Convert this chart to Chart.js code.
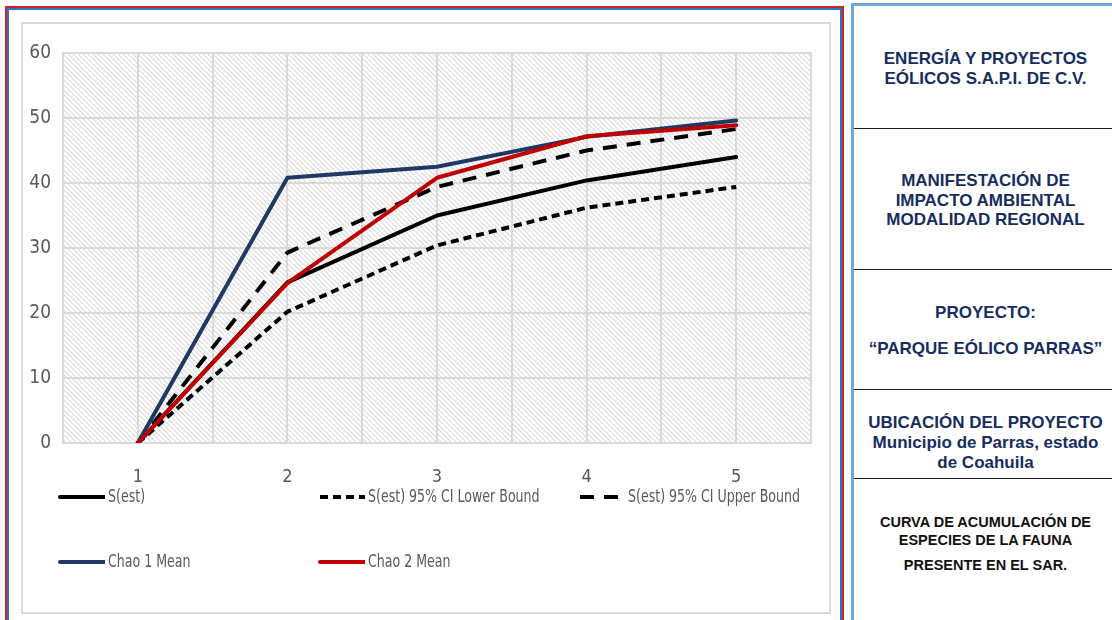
<!DOCTYPE html>
<html>
<head>
<meta charset="utf-8">
<script src="https://cdn.jsdelivr.net/npm/chart.js@4.4.1/dist/chart.umd.min.js"></script>
<style>
  html, body { margin: 0; padding: 0; background: #fff; }
  body { width: 1112px; height: 620px; overflow: hidden; position: relative;
         font-family: 'Liberation Sans', Arial, sans-serif; }
  #leftFrame { position: absolute; left: 5px; top: 6px; width: 835px; height: 640px;
               border: 2px solid #d0202a; }
  #leftInner { position: absolute; left: 0; top: 0; width: 831px; height: 636px;
               border: 2px solid #2a76c6; }
  #chartFrame { position: absolute; left: 21px; top: 22px; width: 806px; height: 588px;
                border: 2px solid #d9d9d9; background: #fff; }
  #chartFrame canvas { position: absolute; left: 0; top: 0; }
  #rightPanel { position: absolute; left: 851px; top: 3px; width: 300px; height: 640px;
                border-left: 3px solid #6fa8dc; border-top: 3px solid #6fa8dc; }
  .rule { position: absolute; left: 854px; width: 270px; height: 0;
          border-top: 1px solid #1a1a1a; }
  .t { position: absolute; left: 854px; width: 263px; text-align: center;
       line-height: 20px; font-weight: bold; white-space: nowrap; }
  .navy { color: #162d5e; font-size: 17px; }
  .blk { color: #111; font-size: 14.5px; }
</style>
</head>
<body>
<div id="leftFrame"><div id="leftInner"></div></div>
<div id="chartFrame"><canvas id="curve" width="806" height="588"></canvas></div>

<div id="rightPanel"></div>
<div class="rule" style="top:128px"></div>
<div class="rule" style="top:269px"></div>
<div class="rule" style="top:389px"></div>
<div class="rule" style="top:478px"></div>

<div class="t navy" style="top:49px">ENERGÍA Y PROYECTOS</div>
<div class="t navy" style="top:69px">EÓLICOS S.A.P.I. DE C.V.</div>
<div class="t navy" style="top:171px">MANIFESTACIÓN DE</div>
<div class="t navy" style="top:190.5px">IMPACTO AMBIENTAL</div>
<div class="t navy" style="top:210px">MODALIDAD REGIONAL</div>
<div class="t navy" style="top:302.5px">PROYECTO:</div>
<div class="t navy" style="top:339px">“PARQUE EÓLICO PARRAS”</div>
<div class="t navy" style="top:412.5px">UBICACIÓN DEL PROYECTO</div>
<div class="t navy" style="top:432.5px">Municipio de Parras, estado</div>
<div class="t navy" style="top:453px">de Coahuila</div>
<div class="t blk" style="top:511.5px">CURVA DE ACUMULACIÓN DE</div>
<div class="t blk" style="top:530px">ESPECIES DE LA FAUNA</div>
<div class="t blk" style="top:555px">PRESENTE EN EL SAR.</div>

<script>
// Sampling units (x) and accumulated species estimates per series
const categories = [1, 2, 3, 4, 5];
const sEst       = [0, 24.7, 35.0, 40.4, 44.0];
const sEstLower  = [0, 20.2, 30.4, 36.2, 39.4];
const sEstUpper  = [0, 29.3, 39.4, 45.0, 48.3];
const chao1Mean  = [0, 40.8, 42.5, 47.1, 49.6];
const chao2Mean  = [0, 24.6, 40.8, 47.2, 48.9];
const seriesNames = ['S(est)', 'S(est) 95% CI Lower Bound', 'S(est) 95% CI Upper Bound',
                     'Chao 1 Mean', 'Chao 2 Mean'];
const yTicks = [0, 10, 20, 30, 40, 50, 60];

const FONT = "'DejaVu Sans Condensed', sans-serif";
const TEXT_GRAY = '#595959';
const GRID = '#d9d9d9';

const toPoints = vals => categories.map((c, i) => ({ x: c, y: vals[i] }));

// Diagonal hatch fill for the plot area
function makeHatch(ctx) {
  const tile = document.createElement('canvas');
  tile.width = 5; tile.height = 5;
  const t = tile.getContext('2d');
  t.fillStyle = '#ffffff';
  t.fillRect(0, 0, 5, 5);
  t.strokeStyle = '#e0e0e0';
  t.lineWidth = 1.3;
  for (let k = -1; k <= 1; k++) {
    t.beginPath();
    t.moveTo(-1, 5 * k - 1);
    t.lineTo(6, 5 * k + 6);
    t.stroke();
  }
  return ctx.createPattern(tile, 'repeat');
}

const hatchBackground = {
  id: 'hatchBackground',
  beforeDraw(chart) {
    const { ctx, chartArea: a } = chart;
    ctx.save();
    ctx.fillStyle = makeHatch(ctx);
    ctx.fillRect(a.left, a.top, a.right - a.left, a.bottom - a.top);
    ctx.restore();
  }
};

// Legend laid out as a three-column grid below the axis
const gridLegend = {
  id: 'gridLegend',
  afterDraw(chart) {
    const ctx = chart.ctx;
    ctx.save();
    ctx.font = '17.5px ' + FONT;
    ctx.textBaseline = 'middle';
    chart.data.datasets.forEach((ds, i) => {
      const col = i % 3, row = Math.floor(i / 3);
      const x0 = 35 + col * 260;
      const y = 473 + row * 65;
      ctx.save();
      ctx.beginPath();
      ctx.rect(x0, y - 6, 47, 12);
      ctx.clip();
      ctx.strokeStyle = ds.borderColor;
      ctx.lineWidth = ds.borderWidth;
      ctx.lineCap = ds.borderDash && ds.borderDash.length ? 'butt' : 'round';
      ctx.setLineDash(ds.borderDash || []);
      ctx.beginPath();
      ctx.moveTo(x0 + 2, y);
      ctx.lineTo(x0 + 47, y);
      ctx.stroke();
      ctx.restore();
      // narrow set text
      ctx.save();
      ctx.translate(x0 + 50, y);
      ctx.scale(0.8, 1);
      ctx.fillStyle = TEXT_GRAY;
      ctx.fillText(ds.label, 0, 0);
      ctx.restore();
    });
    ctx.restore();
  }
};

const styles = [
  { color: '#000000', dash: [] },
  { color: '#000000', dash: [8, 5] },
  { color: '#000000', dash: [14, 10] },
  { color: '#203864', dash: [] },
  { color: '#c00000', dash: [] }
];
const seriesValues = [sEst, sEstLower, sEstUpper, chao1Mean, chao2Mean];

const datasets = seriesValues.map((vals, i) => ({
  label: seriesNames[i],
  data: toPoints(vals),
  borderColor: styles[i].color,
  backgroundColor: styles[i].color,
  borderWidth: 4,
  borderDash: styles[i].dash,
  borderJoinStyle: 'round',
  borderCapStyle: styles[i].dash.length ? 'butt' : 'round',
  pointRadius: 0,
  tension: 0,
  fill: false,
  order: seriesValues.length - i
}));

new Chart(document.getElementById('curve'), {
  type: 'line',
  data: { datasets },
  options: {
    responsive: false,
    animation: false,
    events: [],
    layout: { padding: { left: 0, top: 29, right: 18, bottom: 0 } },
    plugins: { legend: { display: false }, tooltip: { enabled: false } },
    scales: {
      x: {
        type: 'linear',
        min: 0.5, max: 5.5,
        afterFit(scale) { scale.height = 169; scale.paddingLeft = 0; scale.paddingRight = 0; },
        grid: { color: GRID, lineWidth: 2, drawTicks: false },
        border: { color: GRID, width: 2 },
        ticks: {
          stepSize: 0.5, autoSkip: false, maxRotation: 0, padding: 24,
          color: TEXT_GRAY, font: { family: FONT, size: 18 },
          callback: v => categories.includes(v) ? String(v) : ''
        }
      },
      y: {
        min: yTicks[0], max: yTicks[yTicks.length - 1],
        afterFit(scale) { scale.width = 40; },
        afterBuildTicks(scale) { scale.ticks = yTicks.map(v => ({ value: v })); },
        grid: { color: GRID, lineWidth: 2, drawTicks: false },
        border: { color: GRID, width: 2 },
        ticks: { padding: 12, color: TEXT_GRAY, font: { family: FONT, size: 19 } }
      }
    }
  },
  plugins: [hatchBackground, gridLegend]
});
</script>
</body>
</html>
